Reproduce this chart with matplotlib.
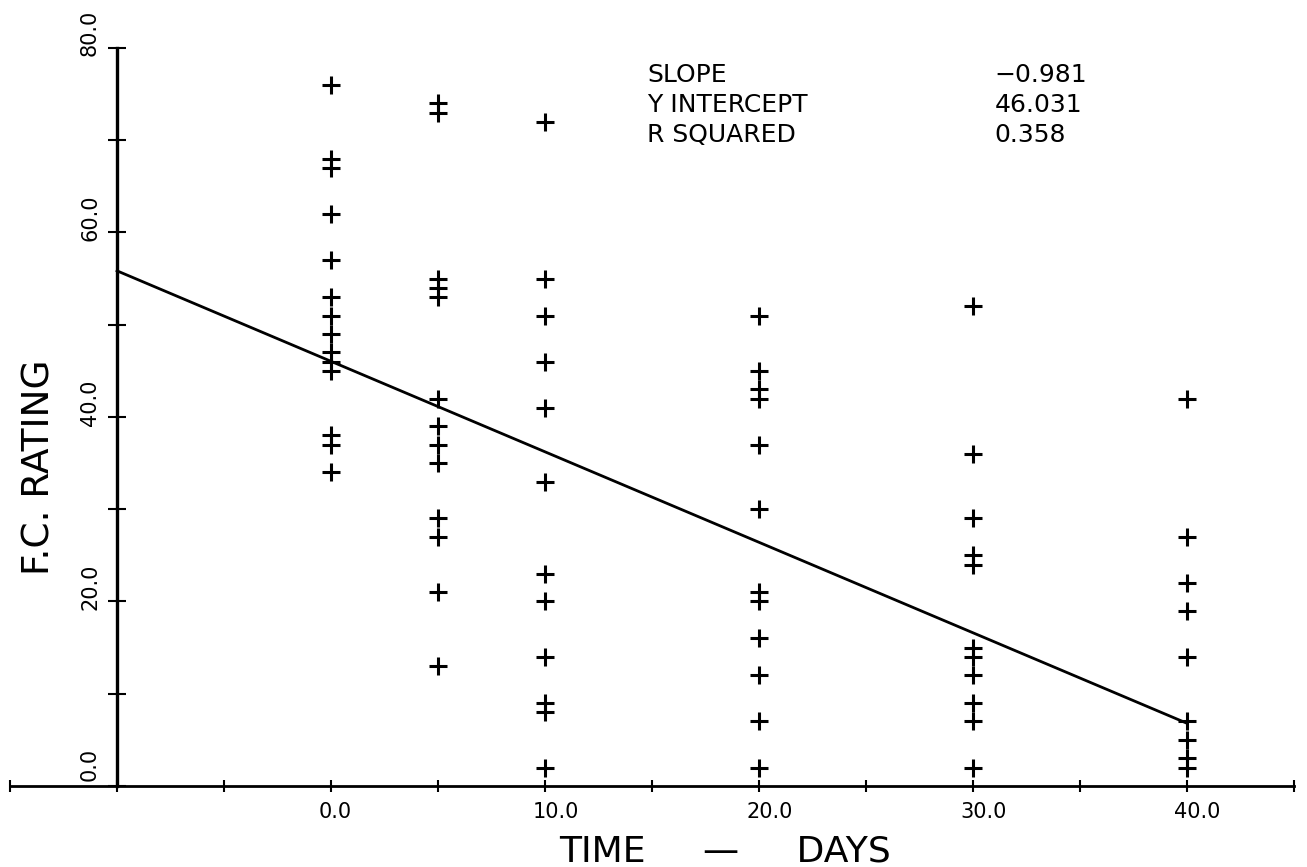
import matplotlib
matplotlib.use('Agg')
from matplotlib import pyplot as plt
import numpy as np

# F.C. rating read per sampling day
days = [0, 5, 10, 20, 30, 40]
rating_day0 = [76, 68, 67, 62, 57, 53, 51, 49, 47, 46, 45, 38, 37, 34]
rating_day5 = [74, 73, 55, 54, 53, 42, 39, 37, 35, 29, 27, 21, 13]
rating_day10 = [72, 55, 51, 46, 41, 33, 23, 20, 14, 9, 8, 2]
rating_day20 = [51, 45, 43, 42, 37, 30, 21, 20, 16, 12, 7, 2]
rating_day30 = [52, 36, 29, 25, 24, 15, 14, 12, 9, 7, 2]
rating_day40 = [42, 27, 22, 19, 14, 7, 5, 3, 2]
ratings = [rating_day0, rating_day5, rating_day10, rating_day20, rating_day30, rating_day40]

slope = -0.981
intercept = 46.031
r_squared = 0.358
line_x = [-10, 40]

x_tick_values = [0, 10, 20, 30, 40]
x_tick_labels = ['0.0', '10.0', '20.0', '30.0', '40.0']
y_tick_values = [0, 20, 40, 60, 80]
y_tick_labels = ['0.0', '20.0', '40.0', '60.0', '80.0']

plt.rcParams['font.family'] = ['DejaVu Sans']

fig = plt.figure(figsize=(13.07, 8.67), dpi=100)
ax = fig.add_axes([0, 0, 1, 1])
ax.set_xlim(-15.47, 45.6)
ax.set_ylim(-8.78, 85.2)

for d, r in zip(days, ratings):
    ax.plot([d] * len(r), r, linestyle='none', marker='+', color='k',
            markersize=13, markeredgewidth=2.2)

line_y = [intercept + slope * x for x in line_x]
ax.plot(line_x, line_y, color='k', linewidth=2)

# axes drawn like the plotter output
for s in ['top', 'right']:
    ax.spines[s].set_visible(False)
ax.spines['left'].set_position(('data', -10))
ax.spines['bottom'].set_position(('data', 0))
ax.spines['left'].set_bounds(0, 80)
ax.spines['bottom'].set_bounds(-15, 45)
ax.spines['left'].set_linewidth(2.4)
ax.spines['bottom'].set_linewidth(2.0)
ax.set_xticks(np.arange(-15, 46, 5))
ax.set_yticks(np.arange(0, 81, 10))
ax.set_xticklabels([])
ax.set_yticklabels([])
ax.tick_params(axis='x', direction='inout', length=8, width=1.5)
ax.tick_params(axis='y', direction='inout', length=13, width=1.5)

for v, lab in zip(x_tick_values, x_tick_labels):
    ax.text(v - 0.6, -2.85, lab, ha='left', va='center', fontsize=15)
for v, lab in zip(y_tick_values, y_tick_labels):
    ax.text(-11.26, v + 4.1, lab, rotation=90, rotation_mode='anchor',
            ha='right', va='center', fontsize=15)

ax.text(18.4, -7.05, 'TIME     \u2014     DAYS', ha='center', va='center', fontsize=26)
ax.text(-13.64, 34.6, 'F.C. RATING', rotation=90, ha='center', va='center', fontsize=27)

stat_names = ['SLOPE', 'Y INTERCEPT', 'R SQUARED']
stat_values = ['\u22120.981', '46.031', '0.358']
stat_y = [77.1, 73.8, 70.6]
for name, val, yy in zip(stat_names, stat_values, stat_y):
    ax.text(14.77, yy, name, ha='left', va='center', fontsize=18)
    ax.text(31.0, yy, val, ha='left', va='center', fontsize=18)

fig.savefig('out.png', dpi=100)
